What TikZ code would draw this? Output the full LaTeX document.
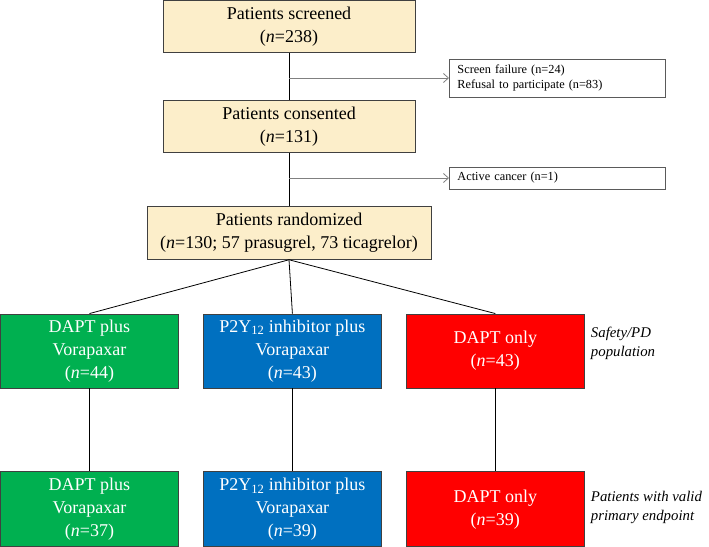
\documentclass[tikz,border=0pt]{standalone}
\usepackage{fontspec}
\setmainfont{Liberation Serif}
\usetikzlibrary{positioning,arrows.meta}

\definecolor{boxtan}{RGB}{252,238,202}
\definecolor{boxedge}{RGB}{64,64,64}
\definecolor{exclgray}{RGB}{90,90,90}
\definecolor{arrowgray}{RGB}{128,128,128}
\definecolor{armgreen}{RGB}{0,176,80}
\definecolor{armblue}{RGB}{0,112,192}
\definecolor{armred}{RGB}{255,0,0}

\begin{document}
\begin{tikzpicture}[x=1pt, y=-1pt, node distance=47pt]

\tikzstyle{every node}=[font=\fontsize{18}{23}\selectfont]
\tikzstyle{flow} = [rectangle, draw=boxedge, line width=0.9pt, fill=boxtan, align=center, inner sep=0pt, minimum height=52pt, minimum width=252pt]
\tikzstyle{excl} = [rectangle, draw=exclgray, line width=0.9pt, anchor=west, align=left, inner xsep=8pt, inner ysep=0pt, text width=200pt, font=\fontsize{12.3}{15}\selectfont]
\tikzstyle{arm} = [rectangle, draw=boxedge, line width=0.9pt, text=white, align=center, inner sep=0pt, minimum width=178pt, minimum height=74pt]
\tikzstyle{note} = [align=left, inner sep=0pt, font=\fontsize{14.8}{19}\selectfont\itshape]
\tikzstyle{link} = [draw=black, line width=0.8pt]
\tikzstyle{exclarrow} = [draw=arrowgray, line width=0.8pt, -{Straight Barb[length=5pt, width=9pt]}]

\useasboundingbox (0,0) rectangle (709,546);

% Nodes
\node[flow] (screened) at (289,26.5) {Patients screened\\(\textit{n}=238)};
\node[flow, below=of screened] (consented) {Patients consented\\(\textit{n}=131)};
\node[flow, below=53pt of consented, minimum width=284pt, minimum height=53pt] (randomized) {Patients randomized\\(\textit{n}=130; 57 prasugrel, 73 ticagrelor)};

\node[excl, minimum height=38pt] (failure) at (449,78) {Screen failure (n=24)\\Refusal to participate (n=83)};
\node[excl, minimum height=22pt] (cancer) at (449,178) {Active cancer (n=1)};

\node[arm, fill=armgreen] (vorapaxar) at (89.5,351) {DAPT plus\\Vorapaxar\\(\textit{n}=44)};
\node[arm, fill=armblue, right=24pt of vorapaxar] (pyvorapaxar) {P2Y\textsubscript{12} inhibitor plus\\Vorapaxar\\(\textit{n}=43)};
\node[arm, fill=armred, right=24pt of pyvorapaxar] (daptonly) {DAPT only\\(\textit{n}=43)};

\node[arm, fill=armgreen, below=83pt of vorapaxar, minimum height=75pt] (vorapaxarvalid) {DAPT plus\\Vorapaxar\\(\textit{n}=37)};
\node[arm, fill=armblue, below=83pt of pyvorapaxar, minimum height=75pt] (pyvorapaxarvalid) {P2Y\textsubscript{12} inhibitor plus\\Vorapaxar\\(\textit{n}=39)};
\node[arm, fill=armred, below=83pt of daptonly, minimum height=75pt] (daptonlyvalid) {DAPT only\\(\textit{n}=39)};

\node[note, right=6pt of daptonly, yshift=8pt] (safety) {Safety/PD\\population};
\node[note, right=6pt of daptonlyvalid, yshift=2pt] (valid) {Patients with valid\\primary endpoint};

\coordinate (split1) at (screened.south |- failure.west);
\coordinate (split2) at (consented.south |- cancer.west);

% Lines
\draw[link] (screened.south) -- (consented.north);
\draw[link] (consented.south) -- (randomized.north);
\draw[exclarrow] (split1) -- (failure.west);
\draw[exclarrow] (split2) -- (cancer.west);
\draw[link] (randomized.south) -- (vorapaxar.north);
\draw[link] (randomized.south) -- (pyvorapaxar.north);
\draw[link] (randomized.south) -- (daptonly.north);
\draw[link] (vorapaxar) -- (vorapaxarvalid);
\draw[link] (pyvorapaxar) -- (pyvorapaxarvalid);
\draw[link] (daptonly) -- (daptonlyvalid);

\end{tikzpicture}
\end{document}
